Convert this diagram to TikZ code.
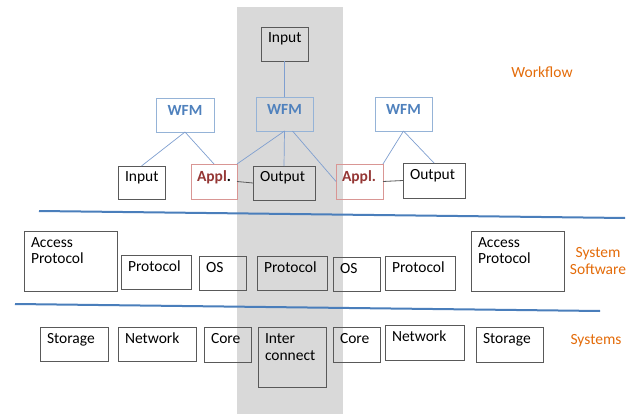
\documentclass[tikz,border=0pt]{standalone}
\usepackage{fontspec}
\setmainfont{Carlito}

\definecolor{bandgray}{HTML}{D9D9D9}
\definecolor{boxgray}{HTML}{595959}
\definecolor{wfmedge}{HTML}{95B3D7}
\definecolor{wfmtext}{HTML}{4F81BD}
\definecolor{appledge}{HTML}{D99694}
\definecolor{appltext}{HTML}{953735}
\definecolor{linkblue}{HTML}{7F9FD0}
\definecolor{sepblue}{HTML}{4A7EBB}
\definecolor{layerorange}{HTML}{E46C0A}

\tikzset{
  box/.style={draw=boxgray, line width=0.9pt, inner sep=0pt, outer sep=0pt},
  wfmbox/.style={box, draw=wfmedge},
  applbox/.style={box, draw=appledge},
  lbl/.style={inner sep=0pt, outer sep=0pt, font=\fontsize{15.5}{17}\selectfont},
  wfmlbl/.style={lbl, font=\fontsize{15.5}{17}\selectfont\bfseries, text=wfmtext},
  appllbl/.style={lbl, font=\fontsize{15.5}{17}\selectfont\bfseries, text=appltext},
  layer/.style={lbl, text=layerorange},
  link/.style={draw=linkblue, line width=0.7pt},
  tie/.style={draw=boxgray, line width=0.8pt},
  sep/.style={draw=sepblue, line width=2pt},
}

% \cell{name}{x1}{y1}{x2}{y2}{box style}{text}: box with text at its top left
\newcommand\cell[7]{%
  \node[#6, minimum width={(#4-#2)*1pt}, minimum height={(#5-#3)*1pt},
        anchor=north west] (#1) at (#2,#3) {};
  \node[lbl, anchor=base west] (#1-t) at ([shift={(7pt,-16pt)}]#1.north west) {#7};}
% \wfmcell{name}{x1}{y1}{x2}{y2}: workflow manager box
\newcommand\wfmcell[5]{%
  \node[wfmbox, minimum width={(#4-#2)*1pt}, minimum height={(#5-#3)*1pt},
        anchor=north west] (#1) at (#2,#3) {};
  \node[wfmlbl, anchor=base] (#1-t) at ([yshift=-18pt]#1.north) {WFM};}
% \applcell{name}{x1}{y1}{x2}{y2}{text}: application box
\newcommand\applcell[6]{%
  \node[applbox, minimum width={(#4-#2)*1pt}, minimum height={(#5-#3)*1pt},
        anchor=north west] (#1) at (#2,#3) {};
  \node[appllbl, anchor=base west] (#1-t) at ([shift={(6pt,-18pt)}]#1.north west) {#6};}
\newcommand\twolines[2]{\vtop{\baselineskip=17pt\hbox{#1}\hbox{#2}}}

\begin{document}
\begin{tikzpicture}[x=1pt, y=-1pt]
  \useasboundingbox (0,0) rectangle (634,414);
  \fill[white] (0,0) rectangle (634,414);

  % highlighted column
  \fill[bandgray] (237,7) rectangle (343,414);

  % workflow layer
  \cell{inTop}{261}{27}{308}{61}{box}{Input}
  \wfmcell{wfmC}{256}{97}{313}{131}
  \wfmcell{wfmL}{156}{98}{214}{132}
  \wfmcell{wfmR}{375}{97}{432}{131}
  \cell{inL}{118}{166}{165}{199}{box}{Input}
  \applcell{applL}{191}{164}{237}{199}{Appl\textcolor{black}{.}}
  \cell{outC}{253}{166}{315}{200}{box}{Output}
  \applcell{applR}{336}{164}{383}{199}{Appl.}
  \cell{outR}{403}{163}{465}{198}{box}{Output}

  \draw[link] (inTop.south) -- (wfmC.north);
  \draw[link] (wfmC.south) -- (outC.north);
  \draw[link] (wfmC.south) -- (applL.north east);
  \draw[link] ([xshift=8pt]wfmC.south) -- (applR.west);
  \draw[link] (wfmL.south) -- (inL.north);
  \draw[link] (wfmL.south) -- (applL.north);
  \draw[link] (wfmR.south) -- (applR.north east);
  \draw[link] (wfmR.south) -- (outR.north);
  \draw[tie] (applL.east) -- (outC.west);
  \draw[tie] (applR.east) -- (outR.west);

  % layer separators
  \coordinate (s1a) at (39,211);
  \coordinate (s1b) at (625,218);
  \coordinate (s2a) at (15,304);
  \coordinate (s2b) at (600,311);
  \draw[sep] (s1a) -- (s1b);
  \draw[sep] (s2a) -- (s2b);

  % system software layer
  \cell{apL}{24}{231}{117}{291}{box}{\twolines{Access}{Protocol}}
  \cell{prL}{121}{255}{191}{289}{box}{Protocol}
  \cell{osL}{199}{256}{246}{290}{box}{OS}
  \cell{prC}{257}{256}{327}{290}{box}{Protocol}
  \cell{osR}{333}{257}{380}{291}{box}{OS}
  \cell{prR}{385}{256}{455}{290}{box}{Protocol}
  \cell{apR}{471}{231}{564}{291}{box}{\twolines{Access}{Protocol}}

  % systems layer
  \cell{stL}{40}{327}{108}{361}{box}{Storage}
  \cell{nwL}{118}{327}{196}{361}{box}{Network}
  \cell{coL}{204}{327}{251}{362}{box}{Core}
  \cell{ic}{258}{327}{326}{387}{box}{\twolines{Inter}{connect}}
  \cell{coR}{333}{327}{380}{362}{box}{Core}
  \cell{nwR}{385}{325}{464}{360}{box}{Network}
  \cell{stR}{476}{327}{543}{362}{box}{Storage}

  % layer names
  \node[layer, anchor=base] (lWorkflow) at (542,78) {Workflow};
  \node[layer, anchor=base] (lSysSw) at (598,257)
    {\vtop{\baselineskip=17pt\halign{\hfil#\hfil\cr System\cr Software\cr}}};
  \node[layer, anchor=base] (lSystems) at (596,344) {Systems};
\end{tikzpicture}
\end{document}
